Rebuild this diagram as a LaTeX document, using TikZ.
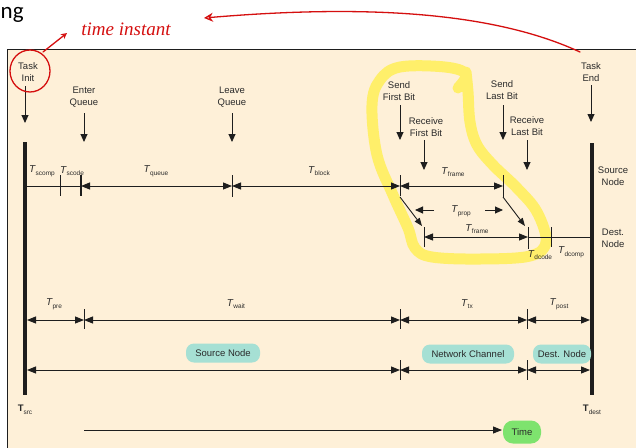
\documentclass[tikz,border=0pt]{standalone}
\usepackage{fontspec}
\setmainfont{Liberation Sans}
\newfontfamily\headfont{Carlito}
\newfontfamily\handfont{Liberation Serif}
\usetikzlibrary{arrows.meta}
\definecolor{beige}{HTML}{FEF0D8}
\definecolor{ln}{HTML}{1E1E1E}
\definecolor{txt}{HTML}{2A2A2A}
\definecolor{hlyel}{HTML}{FFEF6A}
\definecolor{hlteal}{HTML}{A6E0D4}
\definecolor{hlgreen}{HTML}{7EE36E}
\definecolor{pen}{HTML}{D50F0F}
\newcommand\Tsub[1]{\textit{T}\kern-0.2pt\raisebox{-0.5ex}{\fontsize{6.5}{7}\selectfont #1}}
\newcommand\Tbold[1]{\textbf{T}\raisebox{-0.5ex}{\fontsize{6.5}{7}\selectfont #1}}
\tikzset{
  lbl/.style={font=\fontsize{9.5}{12}\selectfont, text=txt, align=center, inner sep=0pt},
  tl/.style={font=\fontsize{10}{12}\selectfont, text=txt, inner sep=0pt},
  tip/.tip={Triangle[length=9pt,width=7pt]},
  dn/.style={draw=ln, line width=0.9pt, -{Triangle[length=8pt,width=7pt]}},
  dimline/.style={draw=ln, line width=0.9pt, tip-tip},
  plain/.style={draw=ln, line width=0.9pt},
  tickline/.style={draw=ln, line width=0.7pt},
  bar/.style={draw=ln, line width=4pt},
  hlnode/.style={fill=hlteal, rounded corners=8pt, inner sep=0pt, minimum height=19pt, font=\fontsize{9.5}{12}\selectfont, text=txt},
  penline/.style={draw=pen, line width=1.3pt, line cap=round},
}
\begin{document}
\begin{tikzpicture}[x=1pt,y=-1pt]
\useasboundingbox (0,0) rectangle (636,447);
% slide background
\fill[white] (0,0) rectangle (636,447);
\fill[beige] (7,49) rectangle (640,450);
\draw[ln, line width=0.8pt] (640,49) -- (7,49) -- (7,450);
\node[anchor=base west, inner sep=0pt, font=\headfont\fontsize{23}{23}\selectfont] (head) at (0.5,18) {ng};

% yellow highlighter
\draw[hlyel, line width=11pt, line cap=round, line join=round] plot[smooth, tension=0.6] coordinates {(458,88) (466,74) (445,67) (400,67) (380,80) (372,105) (377,155) (393,195) (408,228) (415,248) (432,257) (480,259) (530,256) (546,242) (537,212) (517,188) (493,165) (477,145) (470,122) (468,92) (466,72)};

% event labels
\node[lbl] (ti) at (28,72) {Task\\Init};
\node[lbl] (eq) at (84,97.5) {Enter\\Queue};
\node[lbl] (lq) at (232,97.5) {Leave\\Queue};
\node[lbl] (sf) at (399,91) {Send\\First Bit};
\node[lbl] (rf) at (426,127) {Receive\\First Bit};
\node[lbl] (sl) at (502,90) {Send\\Last Bit};
\node[lbl] (rl) at (527,126) {Receive\\Last Bit};
\node[lbl] (te) at (591,72) {Task\\End};
\node[lbl] (srcn) at (613,176) {Source\\Node};
\node[lbl] (dstn) at (613,238) {Dest.\\Node};

% down arrows
\coordinate (tiA) at (25,86);  \coordinate (tiB) at (25,123);
\coordinate (eqA) at (84,113); \coordinate (eqB) at (84,142);
\coordinate (lqA) at (232,113); \coordinate (lqB) at (232,142);
\coordinate (sfA) at (400,105); \coordinate (sfB) at (400,140);
\coordinate (rfA) at (424,140); \coordinate (rfB) at (424,170);
\coordinate (slA) at (503,105); \coordinate (slB) at (503,140);
\coordinate (rlA) at (527,140); \coordinate (rlB) at (527,170);
\coordinate (teA) at (591,85); \coordinate (teB) at (591,122);
\foreach \n in {ti,eq,lq,sf,rf,sl,rl,te} \draw[dn] (\n A) -- (\n B);

% vertical bars
\coordinate (lbTop) at (25,142); \coordinate (lbBot) at (25,395);
\coordinate (rbTop) at (592,143); \coordinate (rbBot) at (592,395);
\draw[bar] (lbTop) -- (lbBot);
\draw[bar] (rbTop) -- (rbBot);
\node[lbl, font=\fontsize{9.5}{12}\selectfont] (tsrc) at (25,410) {\Tbold{src}};
\node[lbl, font=\fontsize{9.5}{12}\selectfont] (tdest) at (592,410) {\Tbold{dest}};

% row 1 (source node)
\coordinate (a0) at (27,186); \coordinate (a1) at (60,186); \coordinate (a2) at (81,186);
\coordinate (a3) at (232,186); \coordinate (a4) at (400,186); \coordinate (a5) at (503,186);
\draw[plain] (a0) -- (a2);
\draw[dimline] (a2) -- (a3);
\draw[dimline] (a3) -- (a4);
\draw[dimline] (a4) -- (a5);
\draw[tickline] ([yshift=11pt]a1) -- ([yshift=-10pt]a1);
\draw[tickline, line width=1.6pt] ([yshift=11pt]a2) -- ([yshift=-10pt]a2);
\draw[tickline] ([yshift=11pt]a3) -- ([yshift=-11pt]a3);
\draw[tickline] ([yshift=11pt]a4) -- ([yshift=-10pt]a4);
\draw[tickline] ([yshift=11pt]a5) -- ([yshift=-11pt]a5);
\node[tl] (lscomp) at (42,171) {\Tsub{scomp}};
\node[tl] (lscode) at (72,171) {\Tsub{scode}};
\node[tl] (lqueue) at (156,171) {\Tsub{queue}};
\node[tl] (lblock) at (319,171) {\Tsub{block}};
\node[tl] (lframe1) at (453,172) {\Tsub{frame}};

% propagation
\coordinate (p1a) at (400,197); \coordinate (p1b) at (422,226);
\coordinate (p2a) at (503,197); \coordinate (p2b) at (525,226);
\draw[dn, line width=0.9pt, -{Triangle[length=8pt,width=6pt]}] (p1a) -- (p1b);
\draw[dn, line width=0.9pt, -{Triangle[length=8pt,width=6pt]}] (p2a) -- (p2b);
\coordinate (pl1) at (434,210); \coordinate (pl2) at (415,210);
\coordinate (pr1) at (485,210); \coordinate (pr2) at (503,210);
\draw[dn, -{Triangle[length=8pt,width=7pt]}] (pl1) -- (pl2);
\draw[dn, -{Triangle[length=8pt,width=7pt]}] (pr1) -- (pr2);
\node[tl] (lprop) at (461,211) {\Tsub{prop}};

% row 2 (dest node)
\coordinate (b1) at (424,237); \coordinate (b2) at (528,237); \coordinate (b3) at (551,237); \coordinate (b4) at (590,237);
\draw[dimline] (b1) -- (b2);
\draw[plain] (b2) -- (b4);
\draw[tickline] ([yshift=10pt]b1) -- ([yshift=-10pt]b1);
\draw[tickline] ([yshift=10pt]b2) -- ([yshift=-12pt]b2);
\draw[tickline] ([yshift=10pt]b3) -- ([yshift=-10pt]b3);
\node[tl] (lframe2) at (477,229) {\Tsub{frame}};
\node[tl] (ldcode) at (540,255) {\Tsub{dcode}};
\node[tl] (ldcomp) at (571,252) {\Tsub{dcomp}};

% row 3
\coordinate (c0) at (27,320); \coordinate (c1) at (84,320); \coordinate (c2) at (400,320);
\coordinate (c3) at (527,320); \coordinate (c4) at (590,320);
\draw[dimline] (c0) -- (c1);
\draw[dimline] (c1) -- (c2);
\draw[dimline] (c2) -- (c3);
\draw[dimline] (c3) -- (c4);
\foreach \c in {c1,c2,c3} \draw[tickline] ([yshift=11pt]\c) -- ([yshift=-9pt]\c);
\node[tl] (lpre) at (54,304) {\Tsub{pre}};
\node[tl] (lwait) at (236,304) {\Tsub{wait}};
\node[tl] (ltx) at (467,304) {\Tsub{tx}};
\node[tl] (lpost) at (559,304) {\Tsub{post}};

% row 4
\coordinate (d0) at (27,370); \coordinate (d2) at (400,370);
\coordinate (d3) at (527,370); \coordinate (d4) at (590,370);
\draw[dimline] (d0) -- (d2);
\draw[dimline] (d2) -- (d3);
\draw[dimline] (d3) -- (d4);
\foreach \c in {d2,d3} \draw[tickline] ([yshift=10pt]\c) -- ([yshift=-10pt]\c);
\node[hlnode, minimum width=74pt] (hsrc) at (223,353) {Source Node};
\node[hlnode, minimum width=92pt] (hnet) at (468,354) {Network Channel};
\node[hlnode, minimum width=58pt] (hdst) at (562,354) {Dest. Node};

% time axis
\coordinate (t0) at (84,430); \coordinate (t1) at (502,430);
\draw[plain, -{Triangle[length=9pt,width=7pt]}] (t0) -- (t1);
\node[fill=hlgreen, rounded corners=10pt, minimum width=38pt, minimum height=23pt, inner sep=0pt, font=\fontsize{9.5}{12}\selectfont, text=txt] (time) at (522,432) {Time};

% red pen annotations
\draw[penline] (30,71) ellipse [x radius=20pt, y radius=21pt];
\node[text=pen, font=\handfont\itshape\fontsize{19}{19}\selectfont, inner sep=0pt] (note) at (126,29) {time instant};
\coordinate (nA) at (43,52); \coordinate (nB) at (67,33);
\draw[penline, -{Stealth[length=6pt,width=6pt,open]}] (nA) -- (nB);
\coordinate (cA) at (580,52); \coordinate (cB) at (204,18);
\draw[penline, -{Stealth[length=9pt,width=9pt,open]}] (cA) .. controls (500,15) and (380,3) .. (cB);
\end{tikzpicture}
\end{document}
